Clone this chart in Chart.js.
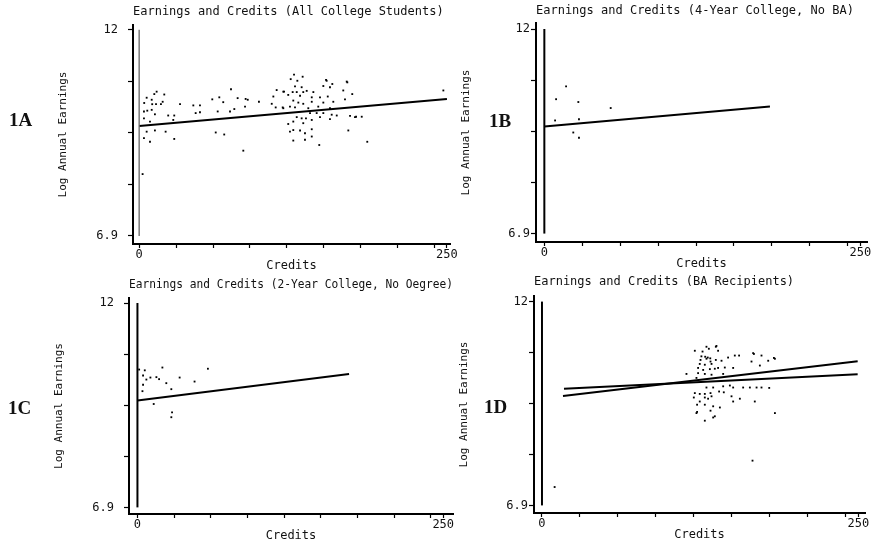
<!DOCTYPE html>
<html>
<head>
<meta charset="utf-8">
<title>Earnings and Credits</title>
<script src="https://cdn.jsdelivr.net/npm/chart.js@4.4.1/dist/chart.umd.min.js"></script>
<style>
body { margin: 0; background: #fff; }
#wrap { position: relative; width: 876px; height: 547px; overflow: hidden; background: #fff; }
#wrap canvas { position: absolute; left: 0; top: 0; }
.tag { position: absolute; font-family: "Liberation Serif", serif; font-weight: bold; font-size: 19px; color: #111; line-height: 1; }
</style>
</head>
<body>
<div id="wrap">
	<canvas id="g1a" width="876" height="547"></canvas>
	<canvas id="g1b" width="876" height="547"></canvas>
	<canvas id="g1c" width="876" height="547"></canvas>
	<canvas id="g1d" width="876" height="547"></canvas>
	<div class="tag" style="left:9px;top:110px">1A</div>
	<div class="tag" style="left:489px;top:111px">1B</div>
	<div class="tag" style="left:8px;top:398px">1C</div>
	<div class="tag" style="left:484px;top:397px">1D</div>
</div>
<script>
// ticks shared by all four panels
var creditTicks = [0, 30, 60, 90, 120, 150, 180, 210, 240, 250];
var earningTicks = [6.9, 8.175, 9.45, 10.725, 12];
var zeroLineX = [0, 0];
var zeroLineY = [6.9, 12];

// 1A: all college students
var allCredits = [6.1,14.2,12.3,20.4,4.1,10.2,10.6,13.7,17.7,19.1,3.9,6.6,10.2,12.8,3.9,8.8,23.6,28.5,27.7,33.2,
	44.0,49.4,45.9,49.4,59.4,65.1,68.3,74.6,80.0,86.5,88.2,97.3,77.3,86.0,63.8,73.8,109.0,111.7,117.1,107.7,
	110.9,116.6,6.1,12.8,21.5,3.9,8.8,28.5,62.2,69.1,84.6,
	125.8,132.8,123.1,128.5,152.3,149.6,156.9,169.1,126.6,132.0,124.7,128.0,133.3,136.1,141.5,117.7,121.1,130.7,140.2,146.9,
	153.2,173.1,125.2,129.3,133.3,140.2,149.6,157.7,167.2,122.5,126.6,137.4,145.5,155.0,117.1,138.8,144.2,149.6,156.4,160.5,
	171.3,175.3,180.8,128.0,132.0,135.5,125.2,121.1,133.3,140.2,146.9,155.0,125.2,130.7,140.2,134.7,122.5,125.2,134.7,169.9,
	185.3,146.3,247.1,176.2,168.6,151.8,155.0,165.8,2.8,140.2];
var allEarnings = [10.32,10.47,10.41,10.40,10.19,10.27,10.16,10.16,10.16,10.22,9.98,10.00,10.02,9.91,9.81,9.73,9.88,9.88,9.77,10.16,
	10.13,10.13,9.94,9.96,10.28,10.33,10.21,10.53,10.31,10.29,10.27,10.22,10.04,10.10,9.98,9.98,10.35,10.51,10.47,10.17,
	10.08,10.08,9.48,9.51,9.48,9.32,9.23,9.30,9.46,9.41,9.01,
	10.89,10.84,10.78,10.74,10.74,10.61,10.66,10.70,10.60,10.58,10.46,10.46,10.46,10.49,10.46,10.47,10.39,10.37,10.33,10.33,
	10.35,10.41,10.25,10.20,10.17,10.22,10.20,10.22,10.28,10.10,10.08,10.06,10.10,10.06,10.06,9.94,9.94,9.94,9.90,9.88,
	9.87,9.84,9.85,9.84,9.81,9.81,9.73,9.67,9.69,9.77,9.84,9.79,9.52,9.51,9.54,9.44,9.48,9.26,9.28,9.51,
	9.23,9.15,10.50,9.85,10.72,10.76,10.58,10.50,8.43,9.36];
var allFitX = [0, 250];
var allFitY = [9.62, 10.29];

// 1B: 4-year college, no BA
var fourCredits = [9.3, 17.2, 26.9, 52.5, 8.5, 27.4, 22.9, 27.4];
var fourEarnings = [10.25, 10.57, 10.18, 10.03, 9.72, 9.75, 9.42, 9.29];
var fourFitX = [0, 178.5];
var fourFitY = [9.57, 10.07];

// 1C: 2-year college, no degree
var twoCredits = [1.4,6.0,4.6,10.6,15.5,20.4,23.6,27.7,34.5,46.7,57.6,4.6,4.1,13.3,28.3,27.7,7.3,17.7];
var twoEarnings = [10.34,10.32,10.19,10.14,10.15,10.39,10.00,9.85,10.14,10.04,10.36,9.96,9.80,9.48,9.27,9.15,10.09,10.10];
var twoFitX = [0, 173];
var twoFitY = [9.57, 10.23];

// 1D: BA recipients (two fitted lines)
var baCredits = [137.4,131.9,139.2,120.8,126.9,147.1,152.4,155.8,167.5,173.5,184.1,125.3,130.0,133.2,137.4,141.9,124.7,128.7,134.0,139.2,
	144.5,151.1,165.6,172.2,178.8,123.4,127.4,132.7,136.6,114.2,123.4,128.7,134.0,143.2,122.1,130.0,135.3,143.2,148.5,151.1,
	159.0,164.3,169.6,173.5,179.6,120.8,124.7,128.7,133.2,140.0,143.7,120.0,128.7,131.3,134.0,149.8,156.4,151.1,124.7,128.7,
	135.3,140.6,122.6,168.2,122.6,133.2,136.6,128.7,184.1,130.0,137.9,166.9,183.3,166.4,10.0,122.1,135.3,129.0,131.0,126.0,133.0];
var baEarnings = [10.87,10.82,10.77,10.77,10.75,10.60,10.65,10.65,10.69,10.65,10.57,10.54,10.57,10.50,10.54,10.52,10.44,10.42,10.44,10.34,
	10.35,10.34,10.50,10.40,10.52,10.34,10.29,10.31,10.32,10.19,10.21,10.19,10.17,10.19,10.09,9.85,9.85,9.88,9.90,9.85,
	9.85,9.85,9.85,9.85,9.84,9.71,9.69,9.69,9.71,9.75,9.73,9.60,9.60,9.57,9.63,9.63,9.57,9.50,9.50,9.42,
	9.38,9.35,9.42,9.50,9.24,9.27,9.13,9.02,9.21,10.87,10.89,10.71,10.59,8.02,7.36,9.21,9.10,10.62,10.60,10.63,10.58];
var baFitAX = [16.6, 249.5];
var baFitAY = [9.64, 10.51];
var baFitBX = [17.4, 249.5];
var baFitBY = [9.82, 10.18];

var ink = '#111';
var mono = '"DejaVu Sans Mono", monospace';
var yAxisWidth = 80, xAxisHeight = 30;

function toPoints(xs, ys) {
	var pts = [];
	for (var i = 0; i < xs.length; i++) pts.push({x: xs[i], y: ys[i]});
	return pts;
}

function lineSet(xs, ys, width, color) {
	return {
		data: toPoints(xs, ys), showLine: true, borderColor: color || '#000',
		borderWidth: width, pointRadius: 0, fill: false
	};
}

function dotSet(xs, ys) {
	return {
		data: toPoints(xs, ys), showLine: false, pointStyle: 'rect', pointRadius: 1.3,
		backgroundColor: '#000', borderWidth: 0
	};
}

// box = where the plot area sits on the page (pixels) and the axis ranges
function drawPanel(id, box, title, datasets) {
	var titleLine = 14.4;
	var titlePadTop = box.titleY - titleLine / 2;
	new Chart(document.getElementById(id).getContext('2d'), {
		type: 'scatter',
		data: { datasets: datasets },
		options: {
			responsive: false,
			animation: false,
			events: [],
			layout: {
				padding: {
					left: box.left - yAxisWidth, right: 876 - box.right,
					top: 0, bottom: 547 - box.bottom - xAxisHeight
				}
			},
			plugins: {
				legend: { display: false },
				tooltip: { enabled: false },
				title: {
					display: true, text: title, align: 'start', fullSize: false, color: ink,
					font: { family: mono, size: 12, weight: 'normal', lineHeight: 1.2 },
					padding: { top: titlePadTop, bottom: box.top - titleLine - titlePadTop }
				}
			},
			scales: {
				x: {
					type: 'linear', min: box.xMin, max: box.xMax,
					afterBuildTicks: function(s) { s.ticks = creditTicks.map(function(v) { return {value: v}; }); },
					afterFit: function(s) { s.height = xAxisHeight; },
					ticks: {
						autoSkip: false, maxRotation: 0, padding: 0, color: ink,
						font: { family: mono, size: 12 },
						callback: function(v) { return (v === 0 || v === 250) ? String(v) : ''; }
					},
					grid: { drawOnChartArea: false, drawTicks: true, tickLength: 4, color: '#000', tickWidth: 1.2 },
					border: { display: true, color: '#000', width: 2 },
					title: {
						display: true, text: 'Credits', color: ink,
						font: { family: mono, size: 12, lineHeight: 1.2 }, padding: { top: 0, bottom: 1 }
					}
				},
				y: {
					type: 'linear', min: box.yMin, max: box.yMax,
					afterBuildTicks: function(s) { s.ticks = earningTicks.map(function(v) { return {value: v}; }); },
					afterFit: function(s) { s.width = yAxisWidth; },
					ticks: {
						autoSkip: false, padding: box.tickPad, color: ink,
						font: { family: mono, size: 12 },
						callback: function(v) { return v === 12 ? '12' : (v === 6.9 ? '6.9' : ''); }
					},
					grid: { drawOnChartArea: false, drawTicks: true, tickLength: 5, color: '#000', tickWidth: 1.2 },
					border: { display: true, color: '#000', width: 2 },
					title: {
						display: true, text: 'Log Annual Earnings', color: ink,
						font: { family: mono, size: 11, lineHeight: 1.2 }, padding: { top: 3.4, bottom: 0 }
					}
				}
			}
		}
	});
}

drawPanel('g1a',
	{ left: 133, right: 450, top: 25, bottom: 244, xMin: -5, xMax: 252.5, yMin: 6.70, yMax: 12.12, titleY: 12, tickPad: 10 },
	'Earnings and Credits (All College Students)',
	[lineSet(zeroLineX, zeroLineY, 1.3, '#666'), dotSet(allCredits, allEarnings), lineSet(allFitX, allFitY, 2)]);

drawPanel('g1b',
	{ left: 536, right: 867, top: 23, bottom: 242, xMin: -6.6, xMax: 255.3, yMin: 6.69, yMax: 12.15, titleY: 11, tickPad: 1 },
	'Earnings and Credits (4-Year College, No BA)',
	[lineSet(zeroLineX, zeroLineY, 2), dotSet(fourCredits, fourEarnings), lineSet(fourFitX, fourFitY, 2)]);

drawPanel('g1c',
	{ left: 129, right: 453, top: 298, bottom: 514, xMin: -6.9, xMax: 258, yMin: 6.735, yMax: 12.125, titleY: 285, tickPad: 10 },
	'Earnings and Credits (2-Year College, No Oegree)',
	[lineSet(zeroLineX, zeroLineY, 2), dotSet(twoCredits, twoEarnings), lineSet(twoFitX, twoFitY, 2)]);

drawPanel('g1d',
	{ left: 534, right: 865, top: 296, bottom: 513, xMin: -6.3, xMax: 255.3, yMin: 6.71, yMax: 12.14, titleY: 282, tickPad: 1 },
	'Earnings and Credits (BA Recipients)',
	[lineSet(zeroLineX, zeroLineY, 2), dotSet(baCredits, baEarnings), lineSet(baFitAX, baFitAY, 2), lineSet(baFitBX, baFitBY, 2)]);
</script>
</body>
</html>
